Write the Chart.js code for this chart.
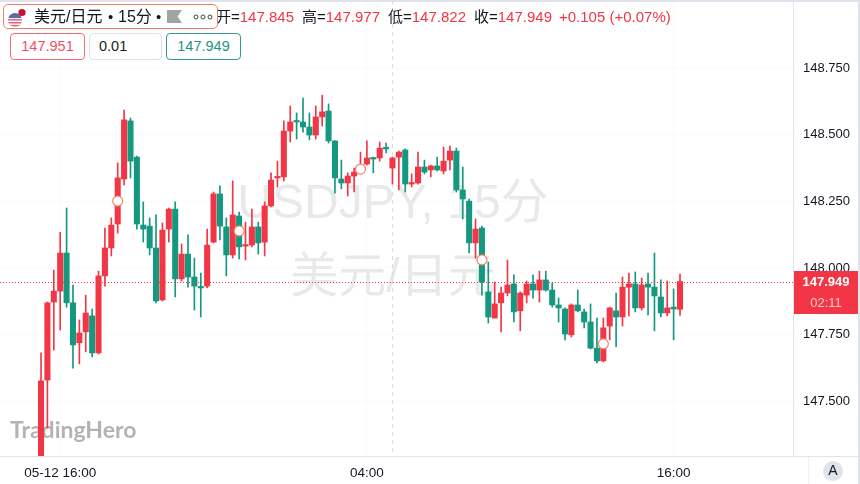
<!DOCTYPE html>
<html>
<head>
<meta charset="utf-8">
<script src="https://cdn.jsdelivr.net/npm/chart.js@4"></script>
<style>
html,body{margin:0;padding:0;background:#fff;width:860px;height:484px;overflow:hidden}
#wrap{position:relative;width:860px;height:484px;font-family:"Liberation Sans","Noto Sans CJK SC",sans-serif;color:#131722}
canvas{position:absolute;left:0;top:0}
.a{position:absolute;white-space:nowrap}
#ohlc{left:216px;top:8px;font-size:15px;line-height:18px}
#ohlc b{font-weight:normal;color:#f23645}
#ohlc i{font-style:normal;margin-left:8px}
#box{left:3px;top:4px;width:213px;height:23px;border:1px solid #ee7f64;border-radius:5px;background:#fff}
.btn{top:33px;height:25px;border-radius:4px;border:1px solid;font-size:14.5px;line-height:25px;background:#fff;box-sizing:content-box}
</style>
</head>
<body>
<div id="wrap">
<canvas id="c" width="860" height="484"></canvas>
<div class="a" id="ohlc">开=<b>147.845</b><i>高=</i><b>147.977</b><i>低=</i><b>147.822</b><i>收=</i><b>147.949</b><b style="margin-left:7px">+0.105 (+0.07%)</b></div>
<div class="a" id="box"></div>
<svg class="a" style="left:6px;top:7px" width="22" height="22" viewBox="0 0 22 22">
  <defs><clipPath id="fc"><circle cx="9" cy="13" r="7"/></clipPath></defs>
  <g clip-path="url(#fc)">
    <rect x="0" y="5" width="18" height="16" fill="#f4f4f6"/>
    <rect x="0" y="12" width="18" height="1.5" fill="#e8637a"/>
    <rect x="0" y="15" width="18" height="1.5" fill="#e8637a"/>
    <rect x="0" y="18" width="18" height="1.5" fill="#e8637a"/>
    <rect x="0" y="5" width="18" height="6" fill="#5a6aa8"/>
  </g>
  <circle cx="16" cy="5.5" r="3.6" fill="#c8102e"/>
</svg>
<div class="a" style="left:34px;top:7px;font-size:16px;line-height:20px">美元/日元</div>
<div class="a" style="left:108px;top:7px;font-size:15px;line-height:20px">•</div>
<div class="a" style="left:118px;top:7px;font-size:16px;line-height:20px">15分</div>
<div class="a" style="left:156px;top:7px;font-size:15px;line-height:20px">•</div>
<svg class="a" style="left:167px;top:10px" width="16" height="14" viewBox="0 0 16 14"><path d="M0 0H15L10.5 6.5L15 13H0Z" fill="#a3a3a3"/></svg>
<svg class="a" style="left:192px;top:13px" width="22" height="8" viewBox="0 0 22 8"><g fill="none" stroke="#444" stroke-width="1"><circle cx="4" cy="4" r="2"/><circle cx="11" cy="4" r="2"/><circle cx="18" cy="4" r="2"/></g></svg>
<div class="a btn" style="left:10px;width:73px;border-color:#f06a78;color:#f0505f;text-align:center">147.951</div>
<div class="a btn" style="left:89px;width:62px;padding-left:9px;border-color:#dfe1e6;color:#222">0.01</div>
<div class="a btn" style="left:166px;width:73px;border-color:#2f9e8b;color:#1f9582;text-align:center">147.949</div>
</div>
<script>
const timeTicks = [3, 51, 99];
const timeLabels = ['05-12 16:00', '04:00', '16:00'];
const priceTicks = [147.5, 147.75, 148, 148.25, 148.5, 148.75];
const crosshairIndex = 55;
const markerIndex = [12, 31, 50, 69, 88];
const markerPrice = [148.251, 148.139, 148.371, 148.030, 147.715];
const opens = [147.22,147.579,147.872,147.913,148.056,147.869,147.719,147.760,147.820,147.681,147.970,148.075,148.165,148.334,148.552,148.416,148.161,148.157,148.075,147.880,148.146,148.221,147.959,148.052,147.966,147.928,147.932,148.097,148.278,148.154,148.049,148.195,148.082,148.086,148.154,148.097,148.233,148.338,148.342,148.514,148.552,148.548,148.529,148.499,148.567,148.589,148.477,148.334,148.319,148.345,148.360,148.390,148.413,148.413,148.450,148.375,148.416,148.443,148.315,148.319,148.379,148.368,148.383,148.364,148.405,148.439,148.293,148.251,148.094,148.150,147.910,147.812,147.869,147.906,147.940,147.839,147.898,147.940,147.917,147.955,147.917,147.861,147.846,147.749,147.861,147.835,147.797,147.699,147.651,147.782,147.839,147.816,147.928,147.940,147.850,147.940,147.928,147.891,147.831,147.853,147.845];
const highs = [147.681,147.872,147.992,148.134,148.225,147.936,147.805,147.898,147.846,147.988,148.150,148.188,148.394,148.593,148.563,148.420,148.248,148.188,148.199,148.169,148.225,148.248,148.090,148.124,148.037,147.981,148.146,148.285,148.308,148.188,148.327,148.210,148.172,148.221,148.172,148.248,148.357,148.401,148.552,148.608,148.582,148.638,148.582,148.608,148.649,148.616,148.477,148.405,148.357,148.375,148.435,148.477,148.416,148.473,148.469,148.416,148.439,148.447,148.353,148.435,148.405,148.386,148.416,148.454,148.458,148.450,148.379,148.259,148.184,148.157,148.022,147.947,147.928,148.030,147.974,147.910,147.951,147.974,147.988,147.988,147.944,147.887,147.850,147.865,147.917,147.846,147.865,147.812,147.812,147.853,147.906,147.966,147.981,147.985,147.962,147.981,148.056,147.955,147.951,147.921,147.977];
const lows = [147.20,147.399,147.692,147.767,147.853,147.624,147.640,147.685,147.666,147.677,147.932,148.045,148.131,148.312,148.338,148.146,148.097,148.049,147.869,147.876,148.097,147.891,147.951,147.928,147.842,147.816,147.925,148.094,148.105,147.970,148.037,148.034,148.030,148.079,148.052,148.045,148.229,148.304,148.327,148.473,148.484,148.510,148.481,148.484,148.533,148.469,148.281,148.297,148.270,148.285,148.357,148.386,148.357,148.401,148.432,148.315,148.293,148.285,148.304,148.315,148.353,148.342,148.364,148.353,148.368,148.285,148.184,148.056,148.037,147.898,147.793,147.812,147.760,147.895,147.797,147.764,147.869,147.887,147.872,147.913,147.853,147.797,147.730,147.741,147.835,147.775,147.696,147.643,147.647,147.730,147.704,147.782,147.820,147.835,147.842,147.824,147.764,147.816,147.820,147.730,147.822];
const closes = [147.576,147.869,147.913,148.056,147.869,147.711,147.756,147.831,147.681,147.970,148.075,148.161,148.338,148.556,148.401,148.165,148.146,148.075,147.876,148.142,148.221,147.959,148.052,147.966,147.932,147.925,148.086,148.278,148.157,148.049,148.199,148.079,148.086,148.154,148.094,148.233,148.330,148.342,148.514,148.548,148.548,148.529,148.499,148.567,148.586,148.477,148.338,148.319,148.345,148.360,148.386,148.413,148.409,148.450,148.447,148.413,148.435,148.315,148.319,148.379,148.360,148.383,148.368,148.401,148.439,148.293,148.259,148.094,148.146,147.947,147.816,147.865,147.906,147.936,147.835,147.906,147.940,147.917,147.955,147.917,147.861,147.850,147.752,147.861,147.839,147.797,147.699,147.651,147.775,147.850,147.816,147.928,147.940,147.850,147.936,147.928,147.895,147.831,147.850,147.846,147.949];

const UP = '#f23645', DOWN = '#14987f', GRID = '#e0e3eb';
const colours = closes.map((c, i) => c >= opens[i] ? UP : DOWN);
const indexes = closes.map((c, i) => i);
const lastClose = closes[closes.length - 1];

const furniture = {
  id: 'furniture',
  beforeDatasetsDraw(chart) {
    const {ctx, chartArea: a, scales} = chart;
    ctx.save();
    // watermarks
    ctx.fillStyle = '#e9e9ec';
    ctx.textAlign = 'center';
    ctx.textBaseline = 'middle';
    ctx.font = '48px "Liberation Sans","Noto Sans CJK SC"';
    ctx.fillText('USDJPY, 15分', 393, 205);
    ctx.fillText('美元/日元', 393, 279);
    // logo
    ctx.textAlign = 'left';
    ctx.textBaseline = 'alphabetic';
    ctx.fillStyle = '#b3b3b3';
    ctx.font = 'bold 23px Lato';
    ctx.fillText('TradingHero', 10, 438);
    // crosshair
    const cx = Math.round(scales.x.getPixelForValue(crosshairIndex)) + 0.5;
    ctx.strokeStyle = '#d8dbe2';
    ctx.lineWidth = 1;
    ctx.setLineDash([4, 4]);
    ctx.beginPath(); ctx.moveTo(cx, a.top); ctx.lineTo(cx, a.bottom); ctx.stroke();
    ctx.restore();
  },
  afterDatasetsDraw(chart) {
    const {ctx, chartArea: a, scales} = chart;
    const y = scales.y.getPixelForValue(lastClose);
    ctx.save();
    ctx.strokeStyle = UP;
    ctx.lineWidth = 1;
    ctx.setLineDash([1, 2]);
    ctx.beginPath(); ctx.moveTo(a.left, Math.round(y) + 0.5); ctx.lineTo(a.right, Math.round(y) + 0.5); ctx.stroke();
    ctx.restore();
  },
  afterDraw(chart) {
    const {ctx, chartArea: a, scales} = chart;
    const y = Math.round(scales.y.getPixelForValue(lastClose));
    ctx.save();
    // frame
    ctx.fillStyle = GRID;
    ctx.fillRect(a.right - 1, 0, 1, a.bottom);
    ctx.fillRect(0, a.bottom, 860, 1);
    ctx.fillRect(0, 0, 860, 2);
    ctx.fillRect(858, 0, 2, 484);
    // price tag
    ctx.fillStyle = UP;
    ctx.fillRect(a.right, y - 11, 64, 43);
    ctx.textAlign = 'center';
    ctx.textBaseline = 'middle';
    ctx.fillStyle = '#ffffff';
    ctx.font = 'bold 13px "Liberation Sans"';
    ctx.fillText(lastClose.toFixed(3), a.right + 32, y);
    ctx.fillStyle = '#ffc9cd';
    ctx.font = '13px "Liberation Sans"';
    ctx.fillText('02:11', a.right + 32, y + 21);
    // auto button
    ctx.fillStyle = '#e0e3eb';
    ctx.beginPath(); ctx.arc(833, 471, 10, 0, Math.PI * 2); ctx.fill();
    ctx.fillStyle = '#131722';
    ctx.font = '14px "Liberation Sans"';
    ctx.fillText('A', 833, 471.5);
    ctx.fillStyle = '#f0f1f4';
    ctx.fillRect(808, a.bottom + 1, 1, 27);
    ctx.restore();
  }
};

new Chart(document.getElementById('c'), {
  data: {
    datasets: [
      { type: 'scatter', order: 0, data: markerIndex.map((x, i) => ({x, y: markerPrice[i]})),
        pointRadius: 5, pointBackgroundColor: '#ffffff', pointBorderColor: '#f0866a', pointBorderWidth: 1.2 },
      { type: 'bar', order: 1, grouped: false, barPercentage: 1, categoryPercentage: 1, maxBarThickness: 5.4, minBarLength: 1.5,
        data: indexes.map(i => ({x: i, y: [opens[i], closes[i]]})), backgroundColor: colours },
      { type: 'bar', order: 2, grouped: false, barPercentage: 1, categoryPercentage: 1, maxBarThickness: 1,
        data: indexes.map(i => ({x: i, y: [lows[i], highs[i]]})), backgroundColor: colours }
    ]
  },
  options: {
    responsive: false,
    animation: false,
    events: [],
    layout: {padding: 0, autoPadding: false},
    plugins: {legend: {display: false}, tooltip: {enabled: false}},
    scales: {
      x: {
        type: 'linear', bounds: 'data', offset: false, min: -6.42, max: 117.84,
        afterBuildTicks(s) { s.ticks = timeTicks.map(value => ({value})); },
        afterFit(s) { s.height = 28; },
        grid: {color: '#f8f9fb', drawTicks: false, offset: false},
        border: {display: false},
        ticks: {autoSkip: false, maxRotation: 0, padding: 9, color: '#131722', font: {size: 13.5, family: '"Liberation Sans"'},
          callback(v) { return timeLabels[timeTicks.indexOf(v)]; }}
      },
      y: {
        position: 'right', bounds: 'data', offset: false, min: 147.294, max: 149.006,
        afterBuildTicks(s) { s.ticks = priceTicks.map(value => ({value})); },
        afterFit(s) { s.width = 66; s.paddingTop = 0; s.paddingBottom = 0; },
        grid: {color: '#f8f9fb', drawTicks: false},
        border: {display: false},
        ticks: {padding: 9, color: '#131722', font: {size: 13, family: '"Liberation Sans"'},
          callback(v) { return v.toFixed(3); }}
      }
    }
  },
  plugins: [furniture]
});
</script>
</body>
</html>
